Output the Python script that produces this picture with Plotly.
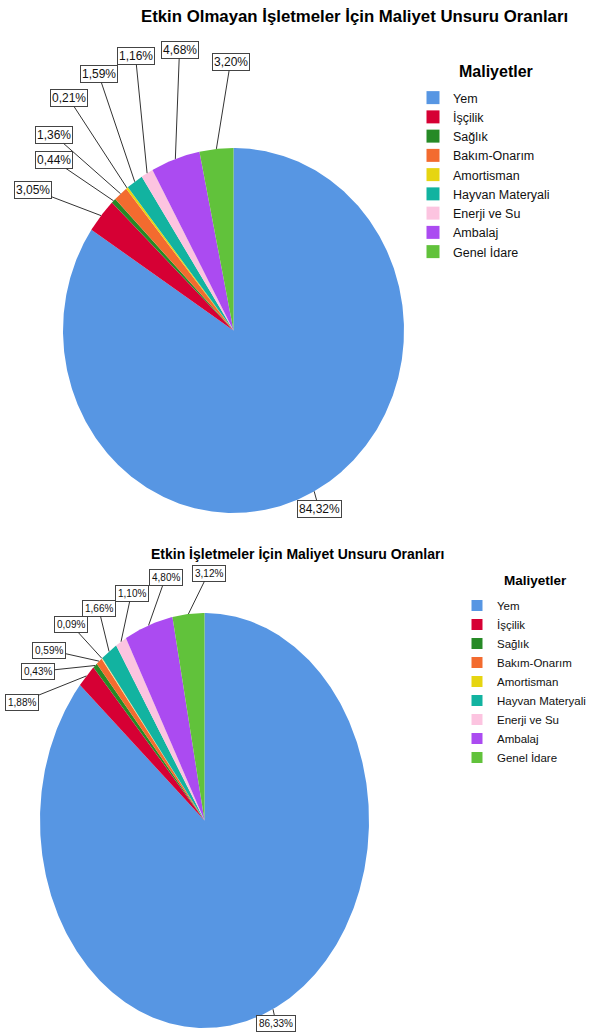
import numpy as np
import plotly.graph_objects as go

# ---------------- data ----------------
categories = ["Yem", "İşçilik", "Sağlık", "Bakım-Onarım", "Amortisman",
              "Hayvan Materyali", "Enerji ve Su", "Ambalaj", "Genel İdare"]
top_values = [84.32, 3.05, 0.44, 1.36, 0.21, 1.59, 1.16, 4.68, 3.20]
bottom_values = [86.33, 1.88, 0.43, 0.59, 0.09, 1.66, 1.10, 4.80, 3.12]
top_title = "Etkin Olmayan İşletmeler İçin Maliyet Unsuru Oranları"
bottom_title = "Etkin İşletmeler İçin Maliyet Unsuru Oranları"
legend_title = "Maliyetler"

# ---------------- styles / layout ----------------
colors = ["#5796e3", "#d60034", "#268a26", "#f36b2f", "#e6d511",
          "#12b3a0", "#fcc4e0", "#ab4bf1", "#61c23b"]
W, H = 592, 1032
FONT = "Liberation Sans, Arial, sans-serif"

# pie geometry (pixel space): center x, center y, radius x, radius y
top_geom = (233.5, 330.5, 170.5, 182.5)
bottom_geom = (204.5, 820.5, 164.5, 207.5)

# label box centres (pixel space), same order as categories
top_label_pos = [(319, 509), (32.5, 189.5), (53.5, 160), (54, 135), (68.5, 98),
                 (98.5, 74), (135.5, 56), (179.5, 50), (230.5, 62)]
bottom_label_pos = [(276, 1023), (21.5, 702), (38, 671.5), (49, 650), (71, 624.5),
                    (98.5, 608), (131.5, 593), (165.5, 577.5), (208.5, 573)]


def fmt(v):
    return f"{v:.2f}".replace(".", ",") + "%"


fig = go.Figure()
annotations = []


def add_pie(values, geom, label_pos, legend_name, marker_size, label_size, pad):
    cx, cy, rx, ry = geom
    total = float(sum(values))
    start = 0.0
    for i, (cat, v) in enumerate(zip(categories, values)):
        a0 = start / total * 2 * np.pi
        a1 = (start + v) / total * 2 * np.pi
        n = max(3, int(np.degrees(a1 - a0) * 2) + 2)
        th = np.linspace(a0, a1, n)
        xs = np.concatenate([[cx], cx + rx * np.sin(th), [cx]])
        ys = np.concatenate([[cy], cy - ry * np.cos(th), [cy]])
        fig.add_trace(go.Scatter(
            x=xs, y=ys, mode="lines", fill="toself", fillcolor=colors[i],
            line=dict(width=0, color=colors[i]), hoverinfo="text",
            text=f"{cat}: {fmt(v)}", showlegend=False))
        # legend entry
        fig.add_trace(go.Scatter(
            x=[None], y=[None], mode="markers", name=cat,
            marker=dict(symbol="square", size=marker_size, color=colors[i]),
            legend=legend_name, showlegend=True))
        am = (a0 + a1) / 2
        tx = cx + rx * np.sin(am)
        ty = cy - ry * np.cos(am)
        bx, by = label_pos[i]
        annotations.append(dict(
            x=tx, y=ty, xref="x", yref="y", ax=bx, ay=by, axref="x", ayref="y",
            text=fmt(v), showarrow=True, arrowhead=0, arrowwidth=1,
            arrowcolor="#333333", standoff=0,
            font=dict(family=FONT, size=label_size, color="#111111"),
            bgcolor="white", bordercolor="#444444", borderwidth=1, borderpad=pad))
        start += v


add_pie(top_values, top_geom, top_label_pos, "legend", 13, 12, 1)
add_pie(bottom_values, bottom_geom, bottom_label_pos, "legend2", 11, 10, 2)

# chart titles
annotations.append(dict(x=354.5, y=16.5, xref="x", yref="y", text=f"<b>{top_title}</b>",
                        showarrow=False, xanchor="center", yanchor="middle",
                        font=dict(family=FONT, size=16.8, color="#000000")))
annotations.append(dict(x=297, y=554, xref="x", yref="y", text=f"<b>{bottom_title}</b>",
                        showarrow=False, xanchor="center", yanchor="middle",
                        font=dict(family=FONT, size=14, color="#000000")))
# legend titles
annotations.append(dict(x=496, y=71, xref="x", yref="y", text=f"<b>{legend_title}</b>",
                        showarrow=False, xanchor="center", yanchor="middle",
                        font=dict(family=FONT, size=16, color="#000000")))
annotations.append(dict(x=535, y=580, xref="x", yref="y", text=f"<b>{legend_title}</b>",
                        showarrow=False, xanchor="center", yanchor="middle",
                        font=dict(family=FONT, size=13.5, color="#000000")))

fig.update_layout(
    width=W, height=H, autosize=False,
    margin=dict(l=0, r=0, t=0, b=0, pad=0),
    paper_bgcolor="white", plot_bgcolor="white",
    xaxis=dict(range=[0, W], visible=False, fixedrange=True, domain=[0, 1]),
    yaxis=dict(range=[H, 0], visible=False, fixedrange=True, domain=[0, 1]),
    annotations=annotations,
    legend=dict(
        x=413 / W, y=1 - 83 / H, xanchor="left", yanchor="top",
        font=dict(family=FONT, size=12.5, color="#111111"),
        bgcolor="rgba(0,0,0,0)", itemclick=False, itemdoubleclick=False),
    legend2=dict(
        x=457 / W, y=1 - 591 / H, xanchor="left", yanchor="top",
        font=dict(family=FONT, size=11.5, color="#111111"),
        bgcolor="rgba(0,0,0,0)", itemclick=False, itemdoubleclick=False),
    showlegend=True,
)

fig.write_html("out.html",
               config={"displayModeBar": False},
               post_script="document.body.style.margin='0';"
                           "document.body.style.overflow='hidden';")
